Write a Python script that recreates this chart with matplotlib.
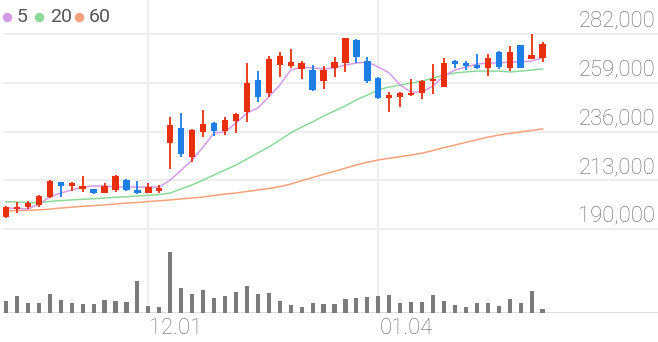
import matplotlib
matplotlib.use("Agg")
import matplotlib.pyplot as plt
import matplotlib.transforms as mtransforms
import numpy as np

# ---- data (prices in thousands of KRW) ----
opens = [195.7, 199.6, 200.4, 201.3, 205.1, 212.2, 210.5, 208.9, 208.9, 207.0,
         208.4, 213.1, 208.4, 207.0, 207.9, 230.6, 237.7, 224.0, 235.8, 240.0,
         236.2, 241.0, 245.2, 260.3, 254.2, 267.4, 266.9, 265.5, 265.0, 259.8,
         266.0, 268.3, 279.2, 269.3, 261.2, 251.8, 252.3, 253.2, 254.2, 259.8,
         257.0, 269.3, 268.3, 267.4, 266.0, 273.5, 266.0, 276.8, 270.2, 270.7]
highs = [200.8, 202.7, 203.2, 206.0, 213.1, 212.4, 212.2, 215.0, 209.1, 211.7,
         215.3, 213.6, 212.6, 211.7, 210.8, 242.8, 244.7, 237.0, 246.1, 240.3,
         242.8, 244.7, 268.3, 264.5, 271.6, 273.5, 274.9, 269.3, 267.4, 266.9,
         271.1, 280.3, 279.6, 271.1, 261.7, 254.6, 254.6, 260.8, 260.3, 267.8,
         270.7, 269.6, 269.3, 272.6, 272.6, 273.8, 276.3, 277.0, 282.0, 278.2]
lows = [195.2, 197.5, 199.4, 200.4, 204.6, 205.1, 207.9, 207.5, 206.5, 206.8,
        207.5, 207.9, 206.5, 206.8, 207.0, 218.3, 224.0, 221.6, 233.4, 233.9,
        234.3, 235.3, 240.5, 249.9, 252.3, 261.7, 266.0, 260.8, 255.1, 256.1,
        261.7, 264.1, 268.3, 258.9, 251.3, 245.2, 247.6, 252.7, 251.3, 253.7,
        256.8, 266.0, 265.0, 265.5, 262.2, 265.5, 264.5, 265.8, 270.0, 268.8]
closes = [200.4, 200.5, 202.3, 205.6, 212.6, 210.3, 211.7, 210.3, 207.0, 210.3,
          215.0, 208.4, 207.0, 209.8, 209.3, 239.1, 225.4, 236.7, 239.5, 236.2,
          241.4, 244.3, 258.9, 252.3, 270.2, 271.6, 268.8, 268.3, 255.6, 265.0,
          268.8, 280.1, 271.1, 259.8, 251.8, 253.2, 254.2, 254.2, 259.8, 260.8,
          268.3, 267.8, 266.9, 266.0, 270.7, 266.4, 273.5, 266.0, 272.1, 277.3]
ma5 = [199.9, 199.7, 199.4, 201.8, 205.1, 207.0, 208.4, 209.8, 210.3, 210.3,
       209.8, 209.8, 209.8, 209.8, 209.8, 213.1, 217.8, 222.5, 228.7, 235.3,
       235.8, 240.0, 244.7, 247.1, 252.3, 257.9, 265.0, 266.4, 266.0, 265.5,
       266.0, 267.4, 268.3, 268.8, 266.4, 263.6, 257.9, 254.6, 254.6, 257.5,
       262.2, 265.0, 266.4, 267.8, 268.3, 268.3, 268.8, 268.8, 269.3, 270.7]
ma20 = [202.9, 202.7, 202.5, 202.3, 203.0, 203.4, 203.7, 204.0, 204.3, 204.6,
        205.0, 205.2, 205.6, 205.9, 206.2, 207.0, 208.9, 210.8, 213.1, 215.5,
        217.8, 220.2, 223.0, 225.9, 228.7, 232.0, 235.3, 238.1, 240.5, 243.3,
        245.7, 248.1, 250.9, 253.2, 255.6, 257.0, 257.9, 258.9, 259.8, 261.2,
        262.7, 263.6, 264.1, 264.5, 264.5, 264.5, 264.1, 264.5, 265.0, 265.5]
ma60 = [198.6, 198.7, 198.8, 199.0, 199.4, 199.9, 200.3, 200.7, 201.0, 201.4,
        201.8, 202.2, 202.5, 203.0, 203.3, 203.7, 204.2, 204.6, 205.1, 205.8,
        206.5, 207.0, 207.7, 208.4, 209.1, 210.0, 211.2, 212.8, 214.3, 215.8,
        217.2, 218.7, 220.2, 221.5, 222.6, 223.4, 224.1, 224.9, 225.8, 227.0,
        228.4, 229.6, 230.9, 232.1, 233.3, 234.3, 235.1, 235.8, 236.5, 237.2]
volumes = [12.0, 17.0, 10.0, 10.4, 18.7, 13.4, 10.0, 9.4, 9.4, 13.4,
           11.7, 11.0, 32.0, 6.7, 6.0, 61.4, 25.0, 19.0, 22.7, 15.0,
           16.7, 20.7, 27.4, 19.0, 20.0, 12.4, 8.4, 6.4, 10.0, 8.7,
           9.4, 14.4, 15.0, 16.4, 17.4, 18.4, 10.4, 11.0, 10.7, 18.0,
           12.4, 8.0, 6.4, 10.0, 10.0, 7.4, 13.7, 10.4, 21.7, 4.0]  # thousand shares
tick_idx = [13, 34]
tick_labels = ["12.01", "01.04"]
price_ticks = [190000, 213000, 236000, 259000, 282000]
ma_labels = ["5", "20", "60"]

# ---- style ----
RED = "#e8300f"
BLUE = "#1f7de6"
C_MA5 = "#d49be9"
C_MA20 = "#8dd99a"
C_MA60 = "#f5a27c"
GRID = "#eeeeee"
TXT = "#666666"
FONT = "Roboto"

W, H = 658, 342
fig = plt.figure(figsize=(W / 100, H / 100), dpi=100)

def fx(px):
    return px / W

def fy(py):
    return 1 - py / H

x_left_px = 3
ax = fig.add_axes([fx(x_left_px), fy(234), fx(W - x_left_px), (234 - 29) / H])
axv = fig.add_axes([fx(x_left_px), fy(313), fx(W - x_left_px), (313 - 245) / H])

step = 10.95
x0 = 6
xlim = ((x_left_px - x0) / step, (W - x0) / step)
ppx = 92000 / 195.0
n = len(closes)
x = np.arange(n)

o = np.array(opens) * 1000
h = np.array(highs) * 1000
l = np.array(lows) * 1000
c = np.array(closes) * 1000

for a in (ax, axv):
    a.set_xlim(*xlim)
    a.axis("off")
    a.patch.set_alpha(0)

ax.set_ylim(190000 - 5 * ppx, 282000 + 5 * ppx)

# horizontal grid + price labels
ytrans = mtransforms.blended_transform_factory(ax.transAxes, ax.transData)
for v in price_ticks:
    ax.axhline(v, color=GRID, lw=1.5, zorder=0)
    ax.annotate(f"{v:,}", xy=(1.0, v), xycoords=ytrans,
                xytext=(-2, 5.2), textcoords="offset points", ha="right", va="baseline",
                fontsize=15.8, color=TXT, family=FONT, fontweight="light")

# vertical grid lines (whole height down to the volume baseline)
vt = mtransforms.blended_transform_factory(ax.transData, fig.transFigure)
for i, lab in zip(tick_idx, tick_labels):
    fig.add_artist(plt.Line2D([i, i], [1.0, fy(313)], transform=vt, color=GRID, lw=1.5, zorder=0))
    fig.text(fx(x_left_px + (i - xlim[0]) * step) + 1 / W, fy(328), lab,
             ha="left", va="center", fontsize=15.8, color=TXT, family=FONT, fontweight="light")

# MA lines
ax.plot(x, np.array(ma60) * 1000, color=C_MA60, lw=1.1, zorder=2)
ax.plot(x, np.array(ma20) * 1000, color=C_MA20, lw=1.1, zorder=2)
ax.plot(x, np.array(ma5) * 1000, color=C_MA5, lw=1.1, zorder=2)

# candles
colors = [RED if cc >= oo else BLUE for oo, cc in zip(o, c)]
ax.vlines(x, l, h, colors=colors, lw=1.3, zorder=3)
bottoms = np.minimum(o, c)
heights = np.maximum(np.abs(c - o), 1.2 * ppx)
ax.bar(x, heights, bottom=bottoms, width=0.58, color=colors, edgecolor="none", zorder=4)

# volume
axv.set_ylim(0, 68)
axv.bar(x, volumes, width=0.38, color="#7b7b7b", edgecolor="none", zorder=2)
axv.axhline(0, color="#dddddd", lw=1.5, zorder=1)

# legend
leg_items = [(6.7, C_MA5, 17), (39.3, C_MA20, 50), (79, C_MA60, 89)]
for (dx, col, tx), lab in zip(leg_items, ma_labels):
    fig.add_artist(plt.Line2D([fx(dx)], [fy(16.7)], marker="o", markersize=6.8, color=col,
                              markeredgecolor="none", transform=fig.transFigure))
    fig.text(fx(tx), fy(16.7), lab, ha="left", va="center", fontsize=14, color="#555555",
             family=FONT)

fig.savefig("out.png", dpi=100)
